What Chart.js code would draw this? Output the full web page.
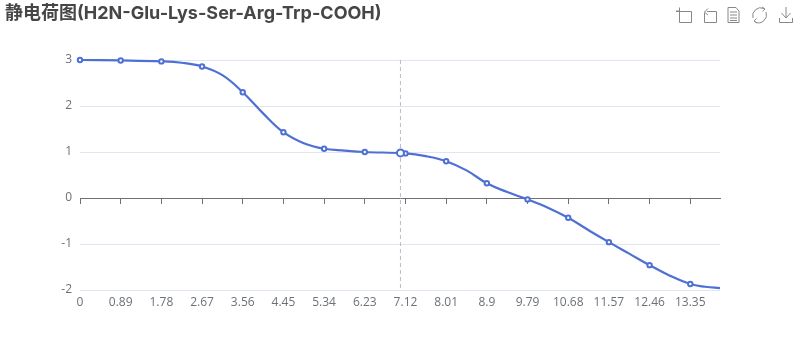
<!DOCTYPE html>
<html>
<head>
<meta charset="utf-8">
<script src="https://cdn.jsdelivr.net/npm/chart.js@4"></script>
<style>
  html, body { margin: 0; padding: 0; background: #fff; }
  #wrap { position: relative; width: 800px; height: 360px; overflow: hidden; }
  #toolbox { position: absolute; left: 0; top: 0; }
</style>
</head>
<body>
<div id="wrap">
  <canvas id="MyChart" width="800" height="360"></canvas>
  <svg id="toolbox" width="800" height="30" fill="none" stroke="#888" stroke-width="1">
    <path d="M676 11.5h15.500v11h-12v-15M676 11h4"/>
    <path d="M707 11.500h9.500v11h-12v-10M704.500 12l3.500-3.500M704.500 12l3.500 3"/>
    <path d="M728 7.500h8l3 3.500v11.500h-11zM730 12h7M730 15h7M730 18h7M730 20.500h7"/>
    <path d="M753 18a8 8 0 0 1 11-9.500M766 12a8 8 0 0 1-11 10M762 7l3 2-2.500 2.500M757 23l-3-2 2.500-2.500"/>
    <path d="M786 7v11M781.500 13l4.500 5 4.500-5M779.500 18v4.500h13v-4.500"/>
  </svg>
</div>
<script>
const titleText = '静电荷图(H2N-Glu-Lys-Ser-Arg-Trp-COOH)'
const tickValues = [0, 0.89, 1.78, 2.67, 3.56, 4.45, 5.34, 6.23, 7.12, 8.01, 8.9, 9.79, 10.68, 11.57, 12.46, 13.35]
const phValues = [0, 0.89, 1.78, 2.225, 2.67, 3.115, 3.56, 4.005, 4.45, 4.895, 5.34, 5.785, 6.23, 7.12, 7.565, 8.01, 8.455, 8.9, 9.345, 9.79, 10.235, 10.68, 11.125, 11.57, 12.015, 12.46, 12.905, 13.35, 13.68, 14]
const chargeValues = [3.0, 2.99, 2.97, 2.94, 2.86, 2.67, 2.30, 1.84, 1.43, 1.19, 1.07, 1.03, 1.00, 0.97, 0.91, 0.80, 0.60, 0.32, 0.13, -0.03, -0.21, -0.43, -0.70, -0.96, -1.21, -1.46, -1.69, -1.87, -1.93, -1.96]
const hoverX = 7.01
const hoverY = 0.98
const yMin = -2
const yMax = 3
const xMax = 14

const lineColor = '#4E70D4'
const textColor = '#6E7079'
const fontFamily = '"Open Sans", "Noto Sans CJK SC", sans-serif'
const titleFontFamily = 'Inter, "Noto Sans CJK SC", sans-serif'

const setTicks = (scale) => {
  scale.ticks = tickValues.map((v) => ({ value: v }))
}

new Chart(document.getElementById('MyChart'), {
  type: 'line',
  data: {
    datasets: [
      {
        // crosshair
        data: [{ x: hoverX, y: yMax }, { x: hoverX, y: yMin }],
        borderColor: '#B9BEC9',
        borderWidth: 1,
        borderDash: [4, 3],
        pointRadius: 0,
        order: 3
      },
      {
        data: phValues.map((x, i) => ({ x: x, y: chargeValues[i] })),
        borderColor: lineColor,
        borderWidth: 2.2,
        backgroundColor: '#fff',
        tension: 0.4,
        // markers only on the labelled ticks
        pointRadius: (ctx) => (ctx.raw && tickValues.includes(ctx.raw.x) ? 2.2 : 0),
        pointBorderWidth: 2,
        pointBorderColor: lineColor,
        pointBackgroundColor: '#fff',
        clip: false,
        order: 2
      },
      {
        // hovered point
        data: [{ x: hoverX, y: hoverY }],
        borderColor: lineColor,
        pointRadius: 3.5,
        pointBorderWidth: 2,
        pointBorderColor: lineColor,
        pointBackgroundColor: '#fff',
        showLine: false,
        clip: false,
        order: 1
      }
    ]
  },
  options: {
    responsive: false,
    animation: false,
    events: [],
    layout: { padding: { left: 5, right: 80, top: 0, bottom: 0 } },
    plugins: {
      legend: { display: false },
      tooltip: { enabled: false },
      title: {
        display: true,
        text: titleText,
        align: 'start',
        color: '#464646',
        font: { family: titleFontFamily, size: 18, weight: 'bold' },
        padding: { top: 3, bottom: 35.4 }
      }
    },
    scales: {
      x: {
        type: 'linear',
        min: 0,
        max: xMax,
        position: 'bottom',
        afterBuildTicks: setTicks,
        afterFit: (scale) => { scale.height = 70 },
        grid: { display: false, drawTicks: false },
        border: { display: false },
        ticks: {
          autoSkip: false,
          maxRotation: 0,
          padding: 5,
          color: textColor,
          font: { family: fontFamily, size: 12 },
          callback: (v) => String(v)
        }
      },
      // axis line with tick marks, sits on y = 0
      zeroAxis: {
        type: 'linear',
        axis: 'x',
        min: 0,
        max: xMax,
        position: { y: 0 },
        afterBuildTicks: setTicks,
        grid: { drawOnChartArea: false, drawTicks: true, tickLength: 5, color: textColor },
        border: { display: true, color: textColor, width: 1 },
        ticks: { display: false }
      },
      y: {
        min: yMin,
        max: yMax,
        afterFit: (scale) => { scale.width = 75 },
        grid: { color: '#E0E6F1', drawTicks: false },
        border: { display: false },
        ticks: {
          stepSize: 1,
          padding: 8,
          color: textColor,
          font: { family: fontFamily, size: 12 }
        }
      }
    }
  }
})
</script>
</body>
</html>
